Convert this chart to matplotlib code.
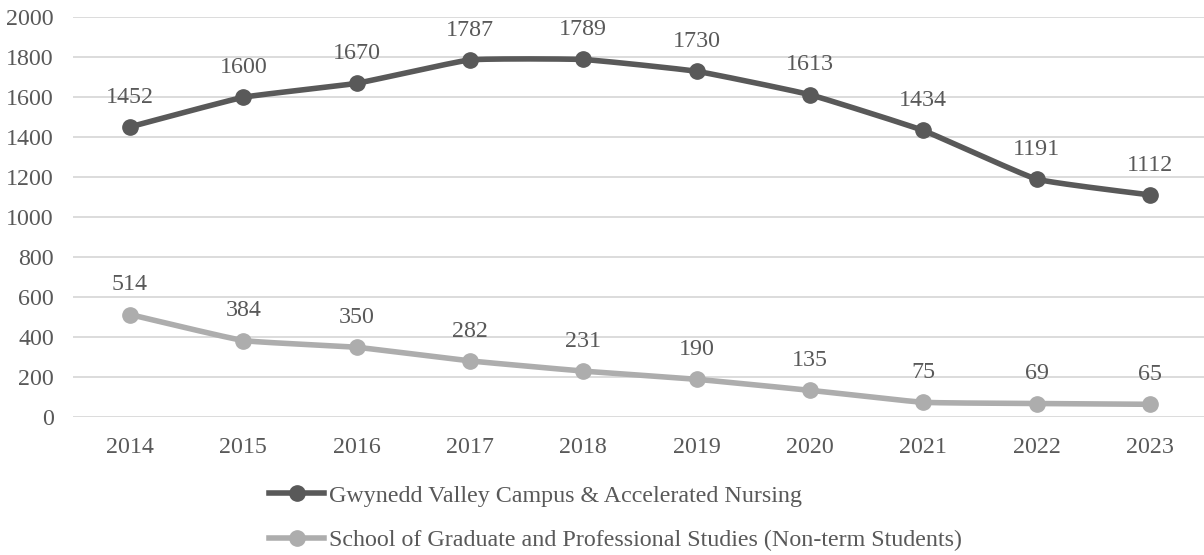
import matplotlib
matplotlib.use("Agg")
import matplotlib.pyplot as plt
from matplotlib.lines import Line2D
from matplotlib import font_manager
import numpy as np

years = ['2014', '2015', '2016', '2017', '2018', '2019', '2020', '2021', '2022', '2023']
campus = [1452, 1600, 1670, 1787, 1789, 1730, 1613, 1434, 1191, 1112]
graduate = [514, 384, 350, 282, 231, 190, 135, 75, 69, 65]
series_names = ['Gwynedd Valley Campus & Accelerated Nursing',
                'School of Graduate and Professional Studies (Non-term Students)']

dark = '#595959'
light = '#ADADAD'
text_col = '#595959'

# look for a Times-like serif font file
serif_name = 'DejaVu Serif'
for f in font_manager.fontManager.ttflist:
    if 'liberationserif-regular' in f.fname.lower().replace(' ', ''):
        serif_name = f.name
        break
plt.rcParams['font.family'] = [serif_name, 'DejaVu Serif']
fs = 17.3


def smooth(xs, ys, k=0.06, n=30):
    # Excel-like smoothed line: bezier segments, control points from neighbours
    xs = np.asarray(xs, float)
    ys = np.asarray(ys, float)
    px = np.concatenate([[xs[0]], xs, [xs[-1]]])
    py = np.concatenate([[ys[0]], ys, [ys[-1]]])
    out_x, out_y = [], []
    t = np.linspace(0, 1, n)
    for i in range(1, len(px) - 2):
        p0 = np.array([px[i], py[i]])
        p3 = np.array([px[i + 1], py[i + 1]])
        c1 = p0 + (np.array([px[i + 1], py[i + 1]]) - np.array([px[i - 1], py[i - 1]])) * k
        c2 = p3 - (np.array([px[i + 2], py[i + 2]]) - np.array([px[i], py[i]])) * k
        b = ((1 - t) ** 3)[:, None] * p0 + (3 * (1 - t) ** 2 * t)[:, None] * c1 \
            + (3 * (1 - t) * t ** 2)[:, None] * c2 + (t ** 3)[:, None] * p3
        out_x.extend(b[:, 0])
        out_y.extend(b[:, 1])
    return out_x, out_y


fig = plt.figure(figsize=(12.04, 5.55), dpi=100)
ax = fig.add_axes([73.3 / 1204, (555 - 417.3) / 555, 1133.3 / 1204, 400 / 555])

x = np.arange(len(years))
for vals, col in [(campus, dark), (graduate, light)]:
    sx, sy = smooth(x, vals)
    ax.plot(sx, sy, color=col, lw=4, solid_capstyle='round', zorder=3)
    ax.plot(x, vals, 'o', color=col, ms=11, zorder=4)
    for xi, v in zip(x, vals):
        ax.annotate(str(v), (xi, v), xytext=(0, 21.5), textcoords='offset points',
                    ha='center', va='center', fontsize=fs, color=text_col)

ax.set_xlim(-0.5, len(years) - 0.5)
ax.set_ylim(0, 2000)
ax.set_yticks(range(0, 2001, 200))
ax.set_xticks(x)
ax.set_xticklabels(years)
ax.tick_params(axis='both', length=0, labelsize=fs, labelcolor=text_col, pad=14)
ax.grid(axis='y', color='#D9D9D9', lw=1.3)
ax.set_axisbelow(True)
for s in ax.spines.values():
    s.set_visible(False)

handles = [Line2D([0], [0], color=dark, lw=4, marker='o', ms=11),
           Line2D([0], [0], color=light, lw=4, marker='o', ms=11)]
fig.legend(handles, series_names, loc='center left', bbox_to_anchor=(269 / 1204, 1 - 518 / 555),
           frameon=False, fontsize=fs, labelcolor=text_col, handlelength=2.3,
           handletextpad=0.2, labelspacing=0.95, borderpad=0, borderaxespad=0)

fig.savefig('out.png', dpi=100)
